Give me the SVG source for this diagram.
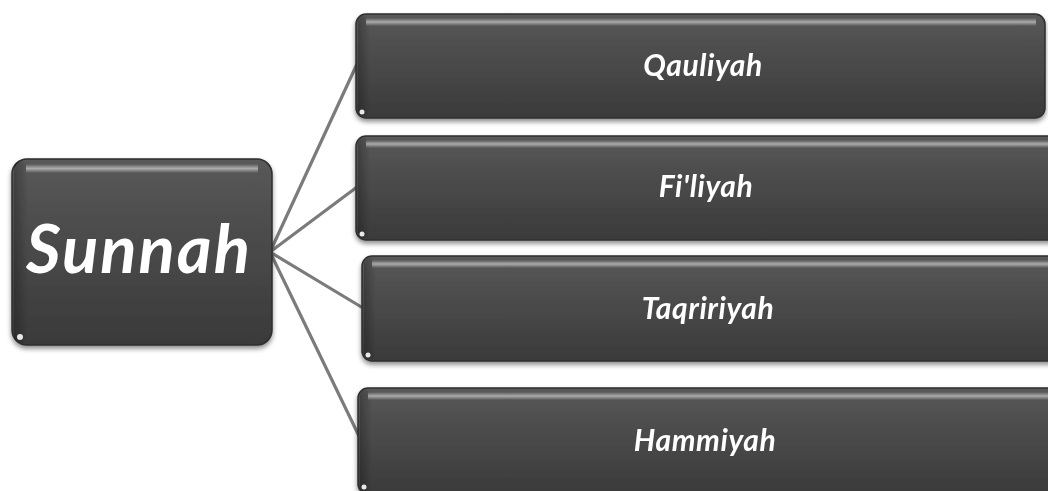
<svg xmlns="http://www.w3.org/2000/svg" width="1048" height="491" viewBox="0 0 1048 491">
  <defs>
    <linearGradient id="boxFill" x1="0" y1="0" x2="0" y2="1">
      <stop offset="0" stop-color="#5a5a5a"/>
      <stop offset="0.12" stop-color="#545454"/>
      <stop offset="1" stop-color="#3a3a3a"/>
    </linearGradient>
    <linearGradient id="sheen" x1="0" y1="0" x2="0" y2="1">
      <stop offset="0" stop-color="#ffffff" stop-opacity="0"/>
      <stop offset="0.5" stop-color="#ffffff" stop-opacity="0.5"/>
      <stop offset="1" stop-color="#ffffff" stop-opacity="0"/>
    </linearGradient>
    <linearGradient id="sideShade" x1="0" y1="0" x2="1" y2="0">
      <stop offset="0" stop-color="#000000" stop-opacity="0.25"/>
      <stop offset="1" stop-color="#000000" stop-opacity="0"/>
    </linearGradient>
    <filter id="drop" x="-5%" y="-10%" width="110%" height="125%">
      <feGaussianBlur in="SourceAlpha" stdDeviation="2.5"/>
      <feOffset dx="0" dy="3" result="b"/>
      <feComponentTransfer><feFuncA type="linear" slope="0.45"/></feComponentTransfer>
      <feMerge><feMergeNode/><feMergeNode in="SourceGraphic"/></feMerge>
    </filter>
  </defs>
  <style>
    .box { fill: url(#boxFill); stroke: #2e2e2e; stroke-width: 1.5; }
    .conn { stroke: #7b7b7b; stroke-width: 3.2; fill: none; stroke-linecap: round; }
    .lbl { font-family: Lato, "Open Sans", sans-serif; font-weight: 700; font-style: italic; fill: #ffffff; text-anchor: middle; }
    .small { font-size: 30px; letter-spacing: 0.6px; }
    .big { font-size: 67px; letter-spacing: 2px; }
  </style>

  <rect width="1048" height="491" fill="#ffffff"/>

  <!-- connectors from the root node to each category -->
  <g id="connectors">
    <line class="conn" x1="270" y1="252" x2="357" y2="64"/>
    <line class="conn" x1="270" y1="252" x2="357" y2="187"/>
    <line class="conn" x1="270" y1="252" x2="363" y2="308"/>
    <line class="conn" x1="270" y1="252" x2="359" y2="436"/>
  </g>

  <!-- root node -->
  <g id="node-sunnah" filter="url(#drop)">
    <rect class="box" x="12" y="159" width="260" height="186" rx="15"/>
    <rect x="14" y="161" width="14" height="182" rx="8" fill="url(#sideShade)"/>
    <rect x="26" y="164" width="232" height="9" fill="url(#sheen)"/>
    <circle cx="20" cy="337" r="3" fill="#e8e8e8"/>
    <text class="lbl big" x="139" y="273">Sunnah</text>
  </g>

  <g id="node-qauliyah" filter="url(#drop)">
    <rect class="box" x="356" y="14" width="689" height="104" rx="10"/>
    <rect x="358" y="16" width="12" height="100" rx="6" fill="url(#sideShade)"/>
    <rect x="366" y="18" width="670" height="8" fill="url(#sheen)"/>
    <circle cx="362" cy="112" r="2.5" fill="#e8e8e8"/>
    <text class="lbl small" x="703" y="76">Qauliyah</text>
  </g>

  <g id="node-filiyah" filter="url(#drop)">
    <rect class="box" x="356" y="136" width="704" height="104" rx="10"/>
    <rect x="358" y="138" width="12" height="100" rx="6" fill="url(#sideShade)"/>
    <rect x="366" y="140" width="690" height="8" fill="url(#sheen)"/>
    <circle cx="362" cy="234" r="2.5" fill="#e8e8e8"/>
    <text class="lbl small" x="706" y="197">Fi'liyah</text>
  </g>

  <g id="node-taqririyah" filter="url(#drop)">
    <rect class="box" x="362" y="256" width="698" height="105" rx="10"/>
    <rect x="364" y="258" width="12" height="101" rx="6" fill="url(#sideShade)"/>
    <rect x="372" y="260" width="684" height="8" fill="url(#sheen)"/>
    <circle cx="368" cy="355" r="2.5" fill="#e8e8e8"/>
    <text class="lbl small" x="708" y="319">Taqririyah</text>
  </g>

  <g id="node-hammiyah" filter="url(#drop)">
    <rect class="box" x="358" y="388" width="702" height="106" rx="10"/>
    <rect x="360" y="390" width="12" height="102" rx="6" fill="url(#sideShade)"/>
    <rect x="368" y="392" width="688" height="8" fill="url(#sheen)"/>
    <circle cx="364" cy="487" r="2.5" fill="#e8e8e8"/>
    <text class="lbl small" x="705" y="451">Hammiyah</text>
  </g>
</svg>
